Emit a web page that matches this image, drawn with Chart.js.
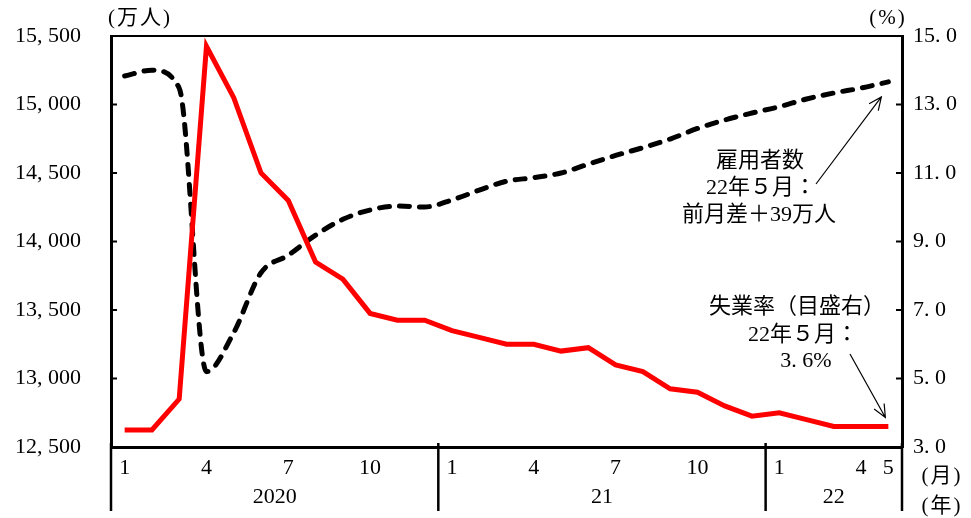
<!DOCTYPE html>
<html>
<head>
<meta charset="utf-8">
<script src="https://cdn.jsdelivr.net/npm/chart.js@4/dist/chart.umd.min.js"></script>
<style>
  html, body { margin: 0; padding: 0; background: #fff; }
  canvas { display: block; }
</style>
</head>
<body>
<canvas id="c" width="971" height="518"></canvas>
<script>
// ---- data ----
const categories = ['2020-1','2020-2','2020-3','2020-4','2020-5','2020-6','2020-7','2020-8','2020-9','2020-10','2020-11','2020-12',
                    '2021-1','2021-2','2021-3','2021-4','2021-5','2021-6','2021-7','2021-8','2021-9','2021-10','2021-11','2021-12',
                    '2022-1','2022-2','2022-3','2022-4','2022-5'];
const monthLabels = ['1','2','3','4','5','6','7','8','9','10','11','12',
                     '1','2','3','4','5','6','7','8','9','10','11','12',
                     '1','2','3','4','5'];
const shownMonths = ['1','4','7','10'];
const yearLabels = ['2020','21','22'];
const yearFirstIndex = [0, 12, 24];

// 雇用者数 (万人, left axis)
const employees = [15208, 15250, 15120, 13050, 13335, 13772, 13900, 14047, 14162, 14230, 14259, 14252,
                   14303, 14375, 14440, 14466, 14500, 14565, 14628, 14685, 14748, 14825, 14887, 14938,
                   14984, 15040, 15084, 15120, 15165];
// 失業率 (%, right axis)
const unemployment = [3.5, 3.5, 4.4, 14.7, 13.2, 11.0, 10.2, 8.4, 7.9, 6.9, 6.7, 6.7,
                      6.4, 6.2, 6.0, 6.0, 5.8, 5.9, 5.4, 5.2, 4.7, 4.6, 4.2, 3.9,
                      4.0, 3.8, 3.6, 3.6, 3.6];

const leftTicks = [12500, 13000, 13500, 14000, 14500, 15000, 15500];
const rightTicks = [3, 5, 7, 9, 11, 13, 15];

const empNote = ['雇用者数', '22年５月：', '前月差＋39万人'];
const ueNote = ['失業率（目盛右）', '22年５月：', '3. 6%'];

const SERIF = '"Liberation Serif", "Noto Sans CJK JP", serif';
const CJK = '"Liberation Serif", "Noto Sans CJK JP", sans-serif';

function fmtLeft(v) {
  const s = String(v);
  return s.slice(0, s.length - 3) + ', ' + s.slice(-3);
}
function fmtRight(v) {
  return Number(v).toFixed(1).replace('.', '. ');
}

function drawArrow(ctx, x1, y1, x2, y2) {
  ctx.save();
  ctx.strokeStyle = '#000';
  ctx.lineWidth = 1.2;
  ctx.beginPath();
  ctx.moveTo(x1, y1);
  ctx.lineTo(x2, y2);
  const a = Math.atan2(y2 - y1, x2 - x1);
  const L = 14, w = 0.42;
  ctx.moveTo(x2 - L * Math.cos(a - w), y2 - L * Math.sin(a - w));
  ctx.lineTo(x2, y2);
  ctx.lineTo(x2 - L * Math.cos(a + w), y2 - L * Math.sin(a + w));
  ctx.stroke();
  ctx.restore();
}

const decor = {
  id: 'decor',
  afterDraw(chart) {
    const ctx = chart.ctx;
    const ca = chart.chartArea;
    const xs = chart.scales.x, yl = chart.scales.y, yr = chart.scales.y1;
    ctx.save();
    ctx.strokeStyle = '#000';
    ctx.fillStyle = '#000';

    // top frame line
    ctx.lineWidth = 2;
    ctx.beginPath();
    ctx.moveTo(ca.left, ca.top);
    ctx.lineTo(ca.right, ca.top);
    ctx.stroke();

    // inside tick marks
    ctx.lineWidth = 2;
    leftTicks.forEach(v => {
      const y = yl.getPixelForValue(v);
      if (Math.abs(y - ca.top) < 2 || Math.abs(y - ca.bottom) < 2) return;
      ctx.beginPath(); ctx.moveTo(ca.left, y); ctx.lineTo(ca.left + 6, y); ctx.stroke();
    });
    rightTicks.forEach(v => {
      const y = yr.getPixelForValue(v);
      if (Math.abs(y - ca.top) < 2 || Math.abs(y - ca.bottom) < 2) return;
      ctx.beginPath(); ctx.moveTo(ca.right, y); ctx.lineTo(ca.right - 6, y); ctx.stroke();
    });

    // year separators
    const seps = [ca.left];
    for (let k = 1; k < yearFirstIndex.length; k++) {
      const i = yearFirstIndex[k];
      seps.push((xs.getPixelForValue(i - 1) + xs.getPixelForValue(i)) / 2);
    }
    seps.push(ca.right);
    ctx.lineWidth = 2.5;
    seps.forEach(x => {
      ctx.beginPath(); ctx.moveTo(x, ca.bottom - 4); ctx.lineTo(x, 511); ctx.stroke();
    });

    // year labels
    ctx.font = '22px ' + SERIF;
    ctx.textAlign = 'center';
    ctx.textBaseline = 'middle';
    yearLabels.forEach((t, k) => {
      ctx.fillText(t, (seps[k] + seps[k + 1]) / 2, 497);
    });

    // units
    ctx.font = '21px ' + CJK;
    ctx.textAlign = 'left';
    ctx.letterSpacing = '2px';
    ctx.fillText('(万人)', 108, 18);
    ctx.textAlign = 'center';
    ctx.fillText('(%)', 888, 18);
    ctx.fillText('(月)', 942, 476);
    ctx.fillText('(年)', 942, 506);
    ctx.letterSpacing = '0px';

    // annotations
    ctx.font = '22px ' + CJK;
    ctx.textAlign = 'center';
    const empLines = [[760, 161], [761, 188], [759, 215]];
    empNote.forEach((t, i) => ctx.fillText(t, empLines[i][0], empLines[i][1]));
    const ueLines = [[797, 307], [803, 335], [806, 361]];
    ueNote.forEach((t, i) => ctx.fillText(t, ueLines[i][0], ueLines[i][1]));

    const last = categories.length - 1;
    const ex = xs.getPixelForValue(last), ey = yl.getPixelForValue(employees[last]);
    drawArrow(ctx, 816, 184, ex - 7, ey + 15);
    const ux = xs.getPixelForValue(last), uy = yr.getPixelForValue(unemployment[last]);
    drawArrow(ctx, 850, 354, ux - 3, uy - 9);

    ctx.restore();
  }
};

function noPadV(s) { s.paddingTop = 0; s.paddingBottom = 0; }

new Chart(document.getElementById('c'), {
  type: 'line',
  data: {
    labels: categories,
    datasets: [
      {
        label: '失業率',
        data: unemployment,
        yAxisID: 'y1',
        borderColor: '#ff0000',
        borderWidth: 5,
        pointRadius: 0,
        tension: 0,
        fill: false,
        order: 0
      },
      {
        label: '雇用者数',
        data: employees,
        yAxisID: 'y',
        borderColor: '#000',
        borderWidth: 5,
        borderDash: [10, 10],
        borderCapStyle: 'round',
        pointRadius: 0,
        cubicInterpolationMode: 'monotone',
        fill: false,
        order: 1
      }
    ]
  },
  options: {
    responsive: false,
    devicePixelRatio: 1,
    animation: false,
    layout: { padding: { top: 36, left: 0, right: 0, bottom: 0 } },
    plugins: { legend: { display: false }, tooltip: { enabled: false } },
    scales: {
      x: {
        type: 'category',
        offset: true,
        grid: { display: false, drawTicks: false },
        border: { display: true, color: '#000', width: 3 },
        ticks: {
          autoSkip: false,
          maxRotation: 0,
          padding: 8,
          color: '#000',
          font: { family: SERIF, size: 22 },
          callback: function (v, i) {
            const m = monthLabels[i];
            if (shownMonths.includes(m) || i === monthLabels.length - 1) return m;
            return '';
          }
        },
        afterFit(s) { s.height = 71; s.paddingLeft = 0; s.paddingRight = 0; }
      },
      y: {
        position: 'left',
        min: 12500,
        max: 15500,
        grid: { display: false, drawTicks: false },
        border: { display: true, color: '#000', width: 3 },
        ticks: {
          stepSize: 500,
          padding: 30,
          color: '#000',
          font: { family: SERIF, size: 22 },
          callback: v => fmtLeft(v)
        },
        afterFit(s) { s.width = 111; noPadV(s); }
      },
      y1: {
        position: 'right',
        min: 3,
        max: 15,
        grid: { display: false, drawTicks: false },
        border: { display: true, color: '#000', width: 3 },
        ticks: {
          stepSize: 2,
          padding: 11,
          color: '#000',
          font: { family: SERIF, size: 22 },
          callback: v => fmtRight(v)
        },
        afterFit(s) { s.width = 69; noPadV(s); }
      }
    }
  },
  plugins: [decor]
});
</script>
</body>
</html>
